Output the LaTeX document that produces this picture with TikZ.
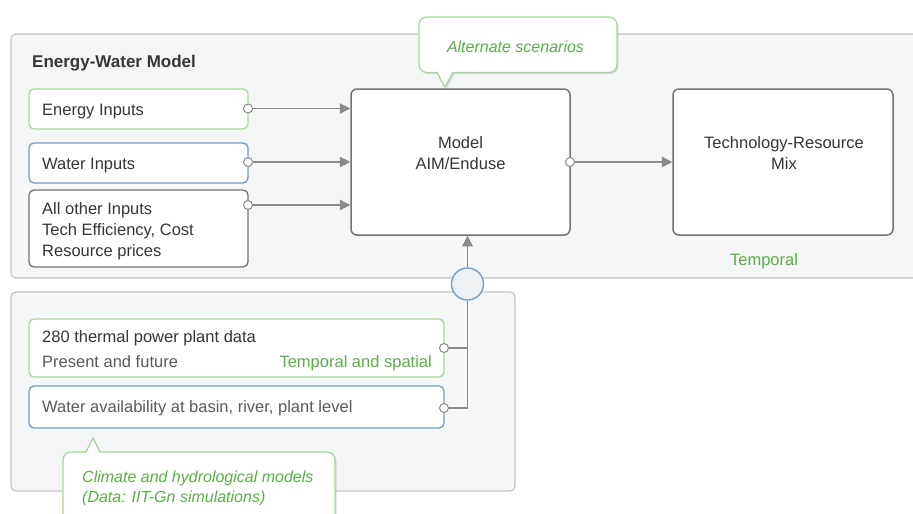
\documentclass[tikz,border=0pt]{standalone}
\usepackage{fontspec}
\setmainfont{Liberation Sans}
\usetikzlibrary{arrows.meta,shadows}
\definecolor{txt}{HTML}{363636}
\definecolor{txtlight}{HTML}{5A5A5A}
\definecolor{grn}{HTML}{5AAE47}
\definecolor{grnb}{HTML}{A9D6A0}
\definecolor{blub}{HTML}{6E9BC8}
\definecolor{lineg}{HTML}{8A8A8A}
\definecolor{boxb}{HTML}{737373}
\definecolor{outerb}{HTML}{C6C6C6}
\definecolor{outerf}{HTML}{F5F6F6}
\definecolor{hubf}{HTML}{EEF0F2}
\tikzset{
  outerbox/.style={draw=outerb, fill=outerf, line width=1.3pt, rounded corners=5pt},
  inbox/.style={fill=white, line width=1.3pt, rounded corners=5pt, inner sep=0pt},
  bigbox/.style={draw=boxb, fill=white, line width=1.5pt, rounded corners=6pt, inner sep=0pt},
  lt/.style={anchor=base west, inner sep=0pt, text=txt, font=\fontsize{16.5}{21}\selectfont},
  ct/.style={anchor=base, inner sep=0pt, text=txt, font=\fontsize{16.5}{21}\selectfont},
  greentxt/.style={text=grn},
  calloutbox/.style={draw=grnb, fill=white, line width=1.3pt,
    drop shadow={shadow xshift=1.5pt, shadow yshift=-1.5pt, opacity=0.13, fill=black}},
  callouttxt/.style={text=grn, font=\fontsize{16}{21}\selectfont\itshape, inner sep=0pt},
  odot/.style={circle, draw=lineg, fill=white, line width=1pt, minimum size=9pt, inner sep=0pt},
  conn/.style={draw=lineg, line width=1.3pt},
  arr/.style={conn, -{Triangle[length=10.5pt, width=10.5pt]}, color=lineg},
}
\begin{document}
\begin{tikzpicture}[x=1pt, y=-1pt]
\useasboundingbox (0,0) rectangle (913,514);
\clip (0,0) rectangle (913,514);
\fill[white] (0,0) rectangle (913,514);

% outer panels
\path[outerbox] (11,34) rectangle (940,278);
\path[outerbox] (11,292) rectangle (515,491);

\node[lt, font=\fontsize{17}{21}\selectfont\bfseries] (title) at (32,67.5) {Energy-Water Model};

% input boxes
\node[inbox, draw=grnb, minimum width=219pt, minimum height=40pt] (ein) at (138.5,109) {};
\node[lt] (eint) at (42,115.7) {Energy Inputs};
\node[inbox, draw=blub, minimum width=219pt, minimum height=40pt] (win) at (138.5,163) {};
\node[lt] (wint) at (42,169) {Water Inputs};
\node[inbox, draw=boxb, minimum width=219pt, minimum height=77pt] (oin) at (138.5,228.5) {};
\node[lt] (oint1) at (42,214.3) {All other Inputs};
\node[lt] (oint2) at (42,235.3) {Tech Efficiency, Cost};
\node[lt] (oint3) at (42,256.3) {Resource prices};

% model and result
\node[bigbox, minimum width=219pt, minimum height=146pt] (model) at (460.5,162) {};
\node[ct] (modelt1) at (460.5,148) {Model};
\node[ct] (modelt2) at (460.5,169) {AIM/Enduse};
\node[bigbox, minimum width=220pt, minimum height=146pt] (mix) at (783,162) {};
\node[ct] (mixt1) at (784,148) {Technology-Resource};
\node[ct] (mixt2) at (784,169) {Mix};
\node[ct, greentxt] (temporal) at (764,265) {Temporal};

% connectors
\node[odot] (eo) at (248,108.5) {};
\node[odot] (wo) at (248,162) {};
\node[odot] (oo) at (248,205) {};
\node[odot] (mo) at (570,162) {};
\draw[arr] (eo) -- (eo -| model.west);
\draw[arr] (wo) -- (wo -| model.west);
\draw[arr] (oo) -- (oo -| model.west);
\draw[arr] (mo) -- (mix.west);

% hub
\node[circle, draw=blub, fill=hubf, line width=1.3pt, minimum size=32pt, inner sep=0pt] (hub) at (467.5,284) {};
\draw[arr] (hub.north) -- (hub.north |- model.south);

% lower boxes
\node[inbox, draw=grnb, minimum width=415pt, minimum height=58pt] (plant) at (236.5,348) {};
\node[lt] (plantt1) at (42,342.3) {280 thermal power plant data};
\node[lt, text=txtlight] (plantt2) at (42,367.3) {Present and future};
\node[lt, anchor=base east, greentxt] (plantt3) at (432,367.3) {Temporal and spatial};
\node[inbox, draw=blub, minimum width=415pt, minimum height=42pt] (wav) at (236.5,407) {};
\node[lt, text=txtlight] (wavt) at (42,412.3) {Water availability at basin, river, plant level};
\node[odot] (po) at (444,348) {};
\node[odot] (wvo) at (444,408) {};
\draw[conn] (po) -- (po -| hub);
\draw[conn] (wvo) -| (hub.south);

% callouts
\draw[calloutbox] (437,72.5) -- (445,87) -- (453,72.5)
  {[rounded corners=8pt] -- (617,72.5) -- (617,17) -- (419,17) -- (419,72.5)} -- cycle;
\node[callouttxt, anchor=base] (alt) at (515.5,52.3) {Alternate scenarios};
\draw[calloutbox] (100,452) -- (93,438) -- (86,452)
  {[rounded corners=8pt] -- (63,452) -- (63,540) -- (335,540) -- (335,452)} -- cycle;
\node[callouttxt, anchor=base west] (clim1) at (82,482) {Climate and hydrological models};
\node[callouttxt, anchor=base west] (clim2) at (82,502.7) {(Data: IIT-Gn simulations)};
\end{tikzpicture}
\end{document}
